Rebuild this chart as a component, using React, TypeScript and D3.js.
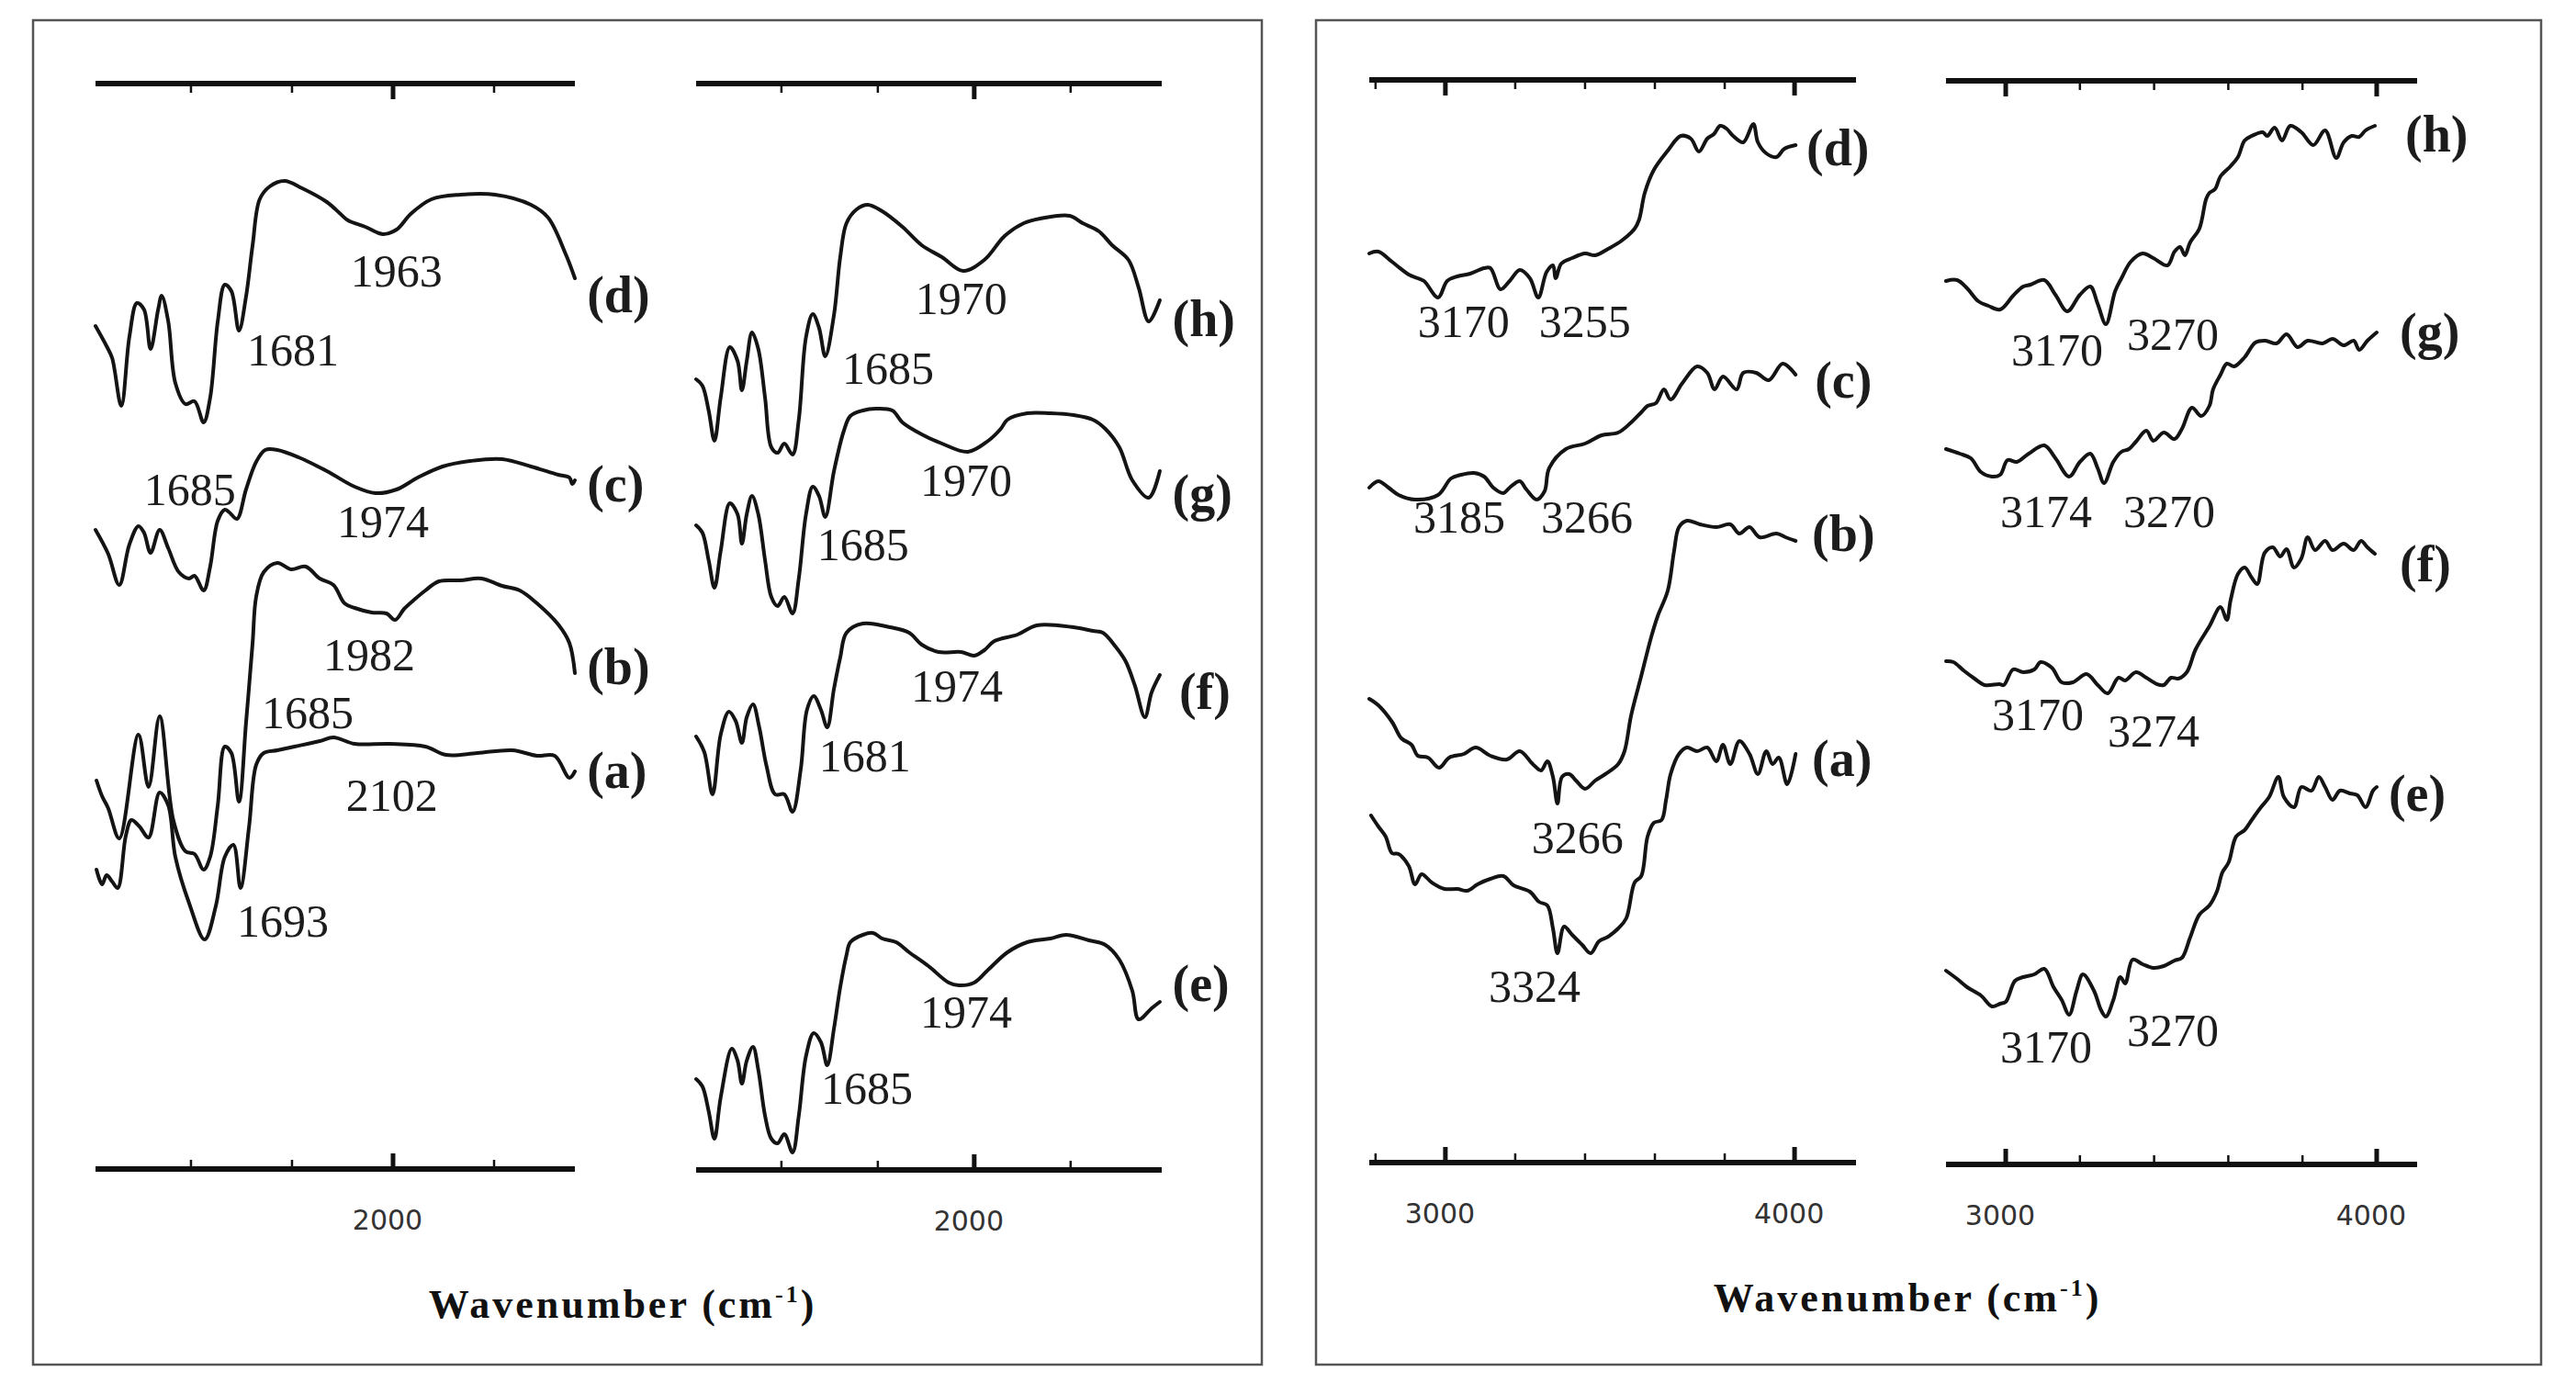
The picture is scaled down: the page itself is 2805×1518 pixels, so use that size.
import React from 'react';
import * as d3 from 'd3';

type Pt = [number, number];
type Lbl = [string, number, number];

// ---------- Panel 1 : 1400–2400 cm-1, samples (a)–(d) ----------
const specLowA: Pt[] = [[1413,35.3],[1424,33.7],[1433,34.7],[1444,34.0],[1455,33.3],[1471,39.0],[1482,40.7],[1498,40.0],[1516,38.8],[1538,43.7],[1555,42.3],[1569,36.7],[1596,31.7],[1627,27.7],[1649,31.3],[1667,36.7],[1684,38.0],[1698,33.3],[1715,40.0],[1729,46.7],[1744,48.0],[1771,48.3],[1805,48.7],[1855,49.3],[1882,49.7],[1924,49.0],[1993,49.0],[2064,48.7],[2105,47.8],[2167,48.0],[2236,48.3],[2285,47.7],[2320,47.7],[2349,45.3],[2360,46.0]];
const specLowB: Pt[] = [[1413,45.0],[1424,43.3],[1436,42.0],[1458,38.7],[1496,50.0],[1516,44.3],[1538,52.0],[1565,40.7],[1589,37.3],[1607,37.0],[1625,35.3],[1638,36.7],[1653,42.3],[1667,48.7],[1680,48.0],[1695,42.7],[1709,51.3],[1722,60.0],[1729,65.0],[1744,67.7],[1771,68.7],[1798,68.0],[1827,68.3],[1855,67.0],[1882,66.3],[1904,64.3],[1924,63.8],[1958,63.3],[1987,63.2],[2004,62.5],[2022,63.7],[2042,64.7],[2064,65.7],[2091,66.7],[2133,66.8],[2175,67.0],[2216,66.2],[2251,65.7],[2285,64.3],[2327,62.0],[2349,60.0],[2360,56.7]];
const specLowC: Pt[] = [[1411,72.3],[1436,69.7],[1458,66.3],[1478,70.7],[1496,72.7],[1507,72.0],[1520,69.8],[1538,72.3],[1555,70.3],[1576,67.7],[1596,67.0],[1607,67.3],[1625,65.7],[1638,68.3],[1653,73.3],[1667,74.5],[1676,74.2],[1691,73.5],[1709,76.7],[1729,79.7],[1747,81.0],[1771,81.0],[1813,80.2],[1869,78.7],[1924,77.0],[1965,76.3],[2007,76.7],[2049,78.0],[2098,79.2],[2153,79.8],[2216,80.0],[2273,79.2],[2327,78.3],[2349,78.0],[2355,77.3],[2360,77.7]];
const specLowD: Pt[] = [[1411,94.5],[1433,92.3],[1444,91.0],[1462,85.8],[1478,93.3],[1493,97.0],[1507,96.3],[1520,92.0],[1535,96.3],[1542,97.8],[1555,95.0],[1569,88.3],[1589,86.0],[1607,86.3],[1625,84.0],[1638,86.7],[1653,95.0],[1667,99.0],[1680,98.3],[1695,94.0],[1709,97.7],[1722,103.3],[1736,108.3],[1756,109.7],[1785,110.3],[1820,109.5],[1869,108.0],[1896,106.7],[1911,106.0],[1945,105.3],[1980,104.5],[2007,105.0],[2035,106.7],[2076,108.3],[2133,108.8],[2202,108.8],[2273,107.7],[2307,106.3],[2342,102.3],[2360,99.7]];

// ---------- Panel 2 : 1400–2400 cm-1, samples (e)–(h) ----------
const specLowE: Pt[] = [[1423,12.5],[1436,11.7],[1449,9.0],[1461,6.0],[1474,10.5],[1497,15.8],[1509,14.5],[1518,12.0],[1528,14.5],[1541,16.0],[1552,13.5],[1566,8.5],[1579,6.0],[1592,5.5],[1606,6.5],[1623,4.5],[1636,8.5],[1651,15.0],[1667,17.5],[1682,16.5],[1695,14.0],[1709,18.0],[1722,22.5],[1735,26.0],[1743,27.4],[1769,28.2],[1790,28.4],[1809,27.8],[1838,27.4],[1865,26.3],[1905,24.8],[1947,23.0],[1968,22.7],[2000,23.0],[2029,24.4],[2069,26.3],[2110,27.4],[2158,27.8],[2191,28.2],[2238,27.6],[2272,27.1],[2301,25.5],[2328,22.1],[2341,19.0],[2368,20.2],[2385,20.9]];
const specLowF: Pt[] = [[1423,49.8],[1440,48.1],[1457,43.5],[1474,50.0],[1491,52.5],[1505,51.5],[1518,49.1],[1528,51.9],[1541,53.3],[1554,50.8],[1569,46.6],[1587,43.5],[1606,43.5],[1623,41.6],[1640,46.2],[1653,52.7],[1667,54.2],[1682,52.7],[1695,50.8],[1709,55.0],[1722,58.4],[1735,61.1],[1769,62.1],[1825,61.7],[1865,61.1],[1891,59.8],[1926,59.0],[1973,59.0],[2000,58.6],[2021,59.2],[2042,60.2],[2090,60.9],[2130,61.9],[2206,61.7],[2246,61.3],[2267,61.1],[2293,59.6],[2314,58.0],[2333,55.4],[2354,51.9],[2368,54.6],[2385,56.5]];
const specLowG: Pt[] = [[1423,72.8],[1436,72.0],[1449,69.0],[1461,66.0],[1474,70.0],[1493,75.2],[1509,74.0],[1518,70.8],[1528,74.0],[1539,76.0],[1552,74.0],[1566,69.0],[1579,65.0],[1592,64.0],[1606,65.0],[1623,63.2],[1636,67.0],[1651,74.0],[1665,77.0],[1678,76.0],[1691,73.7],[1709,78.7],[1729,83.0],[1743,84.7],[1769,85.3],[1796,85.5],[1830,85.3],[1851,84.0],[1891,82.7],[1933,81.7],[1987,80.8],[2029,82.0],[2055,83.3],[2069,84.3],[2110,85.0],[2158,85.0],[2206,84.8],[2246,84.3],[2272,83.3],[2301,81.3],[2328,77.7],[2362,75.8],[2385,78.7]];
const specLowH: Pt[] = [[1423,88.7],[1436,88.0],[1449,85.3],[1461,82.0],[1474,86.7],[1493,92.2],[1509,90.7],[1518,87.5],[1528,90.7],[1539,93.8],[1552,92.0],[1566,86.7],[1579,81.3],[1592,80.7],[1606,81.7],[1623,80.5],[1636,84.3],[1651,93.3],[1665,95.8],[1678,94.3],[1691,91.2],[1709,95.7],[1722,102.0],[1735,105.7],[1756,107.2],[1779,107.7],[1809,107.0],[1851,105.3],[1891,103.3],[1933,102.0],[1977,100.5],[2021,101.7],[2063,104.3],[2103,105.7],[2137,106.2],[2198,106.5],[2225,105.7],[2259,104.8],[2286,103.3],[2320,101.7],[2341,98.7],[2362,95.0],[2385,97.3]];

// ---------- Panel 3 : 2800–4200 cm-1, samples (a)–(d) ----------
const specHighA: Pt[] = [[2787,41.2],[2808,40.0],[2829,38.9],[2847,37.1],[2866,37.0],[2895,35.7],[2913,33.7],[2932,34.8],[2961,33.9],[2997,33.2],[3034,33.2],[3063,33.0],[3092,33.7],[3129,34.3],[3166,34.6],[3195,33.6],[3242,32.9],[3268,31.8],[3292,31.4],[3308,28.9],[3321,26.2],[3340,29.1],[3363,28.2],[3392,27.1],[3416,26.2],[3440,27.5],[3466,28.0],[3495,28.9],[3518,30.0],[3542,33.9],[3561,34.6],[3579,38.9],[3597,40.4],[3619,40.7],[3632,42.9],[3645,45.7],[3669,47.9],[3692,48.6],[3721,48.2],[3750,48.6],[3776,47.1],[3795,48.9],[3816,46.8],[3842,49.3],[3871,47.9],[3895,45.7],[3919,48.2],[3937,46.8],[3955,47.5],[3979,44.6],[4003,47.9]];
const specHighB: Pt[] = [[2782,53.9],[2808,53.2],[2847,51.4],[2874,49.6],[2903,48.9],[2921,47.7],[2950,47.5],[2982,46.4],[3011,47.5],[3053,47.9],[3087,48.6],[3129,47.7],[3176,47.3],[3213,48.2],[3250,46.8],[3274,46.1],[3292,47.1],[3308,45.4],[3321,42.5],[3334,45.4],[3355,45.7],[3374,45.0],[3400,44.1],[3429,45.0],[3458,45.7],[3495,46.8],[3513,48.2],[3532,52.1],[3561,56.4],[3590,60.7],[3608,62.9],[3637,65.7],[3655,70.0],[3669,72.6],[3692,73.3],[3729,72.9],[3776,72.6],[3816,72.9],[3842,71.9],[3871,72.6],[3900,71.5],[3948,71.9],[3974,71.5],[4003,71.1]];
const specHighC: Pt[] = [[2782,76.9],[2808,77.6],[2837,76.9],[2866,76.1],[2913,75.6],[2979,76.1],[3016,77.9],[3045,78.3],[3082,78.5],[3111,78.1],[3137,76.9],[3166,76.3],[3184,76.9],[3213,77.6],[3232,76.7],[3261,75.6],[3284,76.5],[3297,79.0],[3345,81.1],[3400,81.7],[3447,82.6],[3495,82.9],[3532,84.0],[3561,85.1],[3579,85.8],[3603,86.1],[3626,87.6],[3645,86.5],[3679,88.3],[3721,90.1],[3750,89.4],[3771,87.6],[3795,89.0],[3834,87.6],[3853,89.4],[3890,89.4],[3926,88.6],[3966,90.4],[4003,89.2]];
const specHighD: Pt[] = [[2782,102.4],[2808,102.6],[2847,101.5],[2895,100.1],[2921,99.7],[2939,99.4],[2979,97.6],[3005,99.4],[3034,99.9],[3071,100.2],[3111,100.8],[3129,100.8],[3158,98.5],[3184,99.4],[3213,100.6],[3242,99.7],[3266,97.6],[3290,100.4],[3308,101.1],[3316,99.7],[3332,101.3],[3363,101.9],[3400,102.4],[3429,102.2],[3466,102.9],[3505,103.8],[3542,105.1],[3555,106.1],[3571,109.0],[3597,111.5],[3637,113.6],[3674,115.2],[3703,114.9],[3726,113.5],[3750,114.9],[3769,115.4],[3787,116.3],[3805,116.0],[3824,115.2],[3853,114.5],[3882,116.5],[3895,114.5],[3919,113.3],[3948,112.9],[3971,113.8],[4003,114.2]];

// ---------- Panel 4 : 2800–4100 cm-1, samples (e)–(h) ----------
const specHighE: Pt[] = [[2839,24.3],[2869,23.4],[2896,22.5],[2933,21.6],[2963,20.4],[2985,20.7],[3000,20.9],[3025,23.2],[3047,23.6],[3077,23.9],[3104,24.5],[3129,22.5],[3151,21.1],[3171,19.5],[3191,22.1],[3208,23.9],[3238,22.1],[3257,20.0],[3270,19.3],[3290,21.1],[3309,23.6],[3322,22.9],[3342,25.5],[3369,25.0],[3398,24.6],[3426,24.8],[3455,25.4],[3475,25.7],[3497,27.9],[3522,30.4],[3549,31.4],[3569,32.9],[3584,35.0],[3601,36.1],[3621,38.9],[3644,39.6],[3663,40.7],[3688,42.1],[3710,43.2],[3735,45.4],[3750,43.2],[3777,42.1],[3797,44.3],[3824,43.9],[3844,45.4],[3861,44.3],[3881,42.9],[3901,43.9],[3928,43.6],[3948,43.4],[3970,42.1],[3990,43.9],[4000,44.3]];
const specHighF: Pt[] = [[2839,58.0],[2859,57.9],[2886,57.0],[2916,56.1],[2943,55.4],[2983,55.5],[2995,55.4],[3020,57.1],[3047,56.8],[3077,57.1],[3094,57.9],[3124,57.3],[3151,55.7],[3181,55.7],[3218,56.6],[3248,55.4],[3275,54.5],[3304,56.2],[3322,55.9],[3351,56.8],[3379,56.2],[3408,55.5],[3426,55.4],[3446,56.2],[3465,56.1],[3488,56.8],[3512,59.3],[3549,61.8],[3579,63.9],[3596,62.5],[3606,64.6],[3626,67.5],[3644,68.2],[3663,67.1],[3678,66.4],[3698,69.8],[3720,70.4],[3740,69.4],[3757,70.2],[3777,68.2],[3797,69.2],[3814,71.5],[3834,70.1],[3861,71.1],[3881,70.1],[3911,70.8],[3938,70.1],[3958,71.1],[3975,70.4],[3995,69.7]];
const specHighG: Pt[] = [[2839,81.1],[2876,80.6],[2906,80.1],[2933,78.6],[2963,78.1],[2985,78.3],[3005,79.9],[3030,79.7],[3062,80.6],[3104,81.5],[3134,80.1],[3171,78.1],[3200,79.7],[3228,80.6],[3248,79.0],[3265,77.4],[3290,79.7],[3312,80.8],[3332,81.1],[3351,81.9],[3379,83.1],[3398,82.0],[3426,82.9],[3455,82.2],[3475,83.3],[3502,85.6],[3527,84.7],[3549,85.8],[3559,87.6],[3579,89.2],[3596,90.4],[3616,90.1],[3644,91.1],[3673,92.7],[3700,92.9],[3730,92.6],[3757,93.6],[3787,92.2],[3814,92.9],[3854,92.6],[3881,93.1],[3911,92.4],[3938,92.9],[3953,91.9],[3975,92.9],[4000,93.8]];
const specHighH: Pt[] = [[2839,99.4],[2869,99.5],[2896,98.6],[2926,97.2],[2953,96.7],[2985,96.3],[3020,97.8],[3047,98.8],[3067,99.0],[3104,99.5],[3134,97.9],[3166,96.1],[3200,97.9],[3228,98.8],[3248,96.9],[3270,94.7],[3295,98.3],[3312,99.7],[3337,101.5],[3369,102.4],[3398,101.9],[3436,101.1],[3455,102.6],[3470,103.1],[3483,102.2],[3497,103.6],[3522,105.1],[3540,108.3],[3549,109.0],[3564,109.4],[3579,110.8],[3606,111.9],[3626,112.9],[3644,114.7],[3663,115.2],[3693,115.6],[3705,115.2],[3725,116.1],[3745,114.7],[3767,116.3],[3797,115.6],[3829,114.2],[3861,115.8],[3891,112.8],[3911,114.5],[3933,115.2],[3953,115.1],[3970,115.8],[3995,116.3]];

// ---------- annotations [text, wavenumber, offset transmittance] ----------
const peaksP1: Lbl[] = [["1963",1916,98.8],["1681",1711,90.2],["1685",1507,75.0],["1974",1889,71.5],["1982",1862,57.0],["1685",1740,50.7],["2102",1907,41.7],["1693",1691,28.0]];
const tagsP1: Lbl[] = [["(d)",2384,96.0],["(c)",2384,75.4],["(b)",2384,55.5],["(a)",2384,44.2]];
const peaksP2: Lbl[] = [["1970",1878,95.8],["1685",1726,88.2],["1970",1888,76.0],["1685",1674,69.0],["1974",1869,53.6],["1681",1678,46.0],["1974",1888,18.1],["1685",1682,9.8]];
const tagsP2: Lbl[] = [["(h)",2411,93.4],["(g)",2411,74.4],["(f)",2425,52.8],["(e)",2411,21.0]];
const peaksP3: Lbl[] = [["3170",2921,93.3],["3255",3268,93.3],["3185",2908,72.0],["3266",3274,72.0],["3266",3247,37.1],["3324",3124,20.9]];
const tagsP3: Lbl[] = [["(d)",4034,112.0],["(c)",4058,86.7],["(b)",4050,70.0],["(a)",4050,45.5]];
const peaksP4: Lbl[] = [["3170",3015,90.2],["3270",3327,91.9],["3174",2985,72.6],["3270",3317,72.6],["3170",2963,50.5],["3274",3275,48.7],["3170",2985,14.3],["3270",3327,16.1]];
const tagsP4: Lbl[] = [["(h)",4077,113.5],["(g)",4062,92.0],["(f)",4062,66.7],["(e)",4032,41.7]];

// ---------- ticks ----------
const ticksLow = [1600, 1800, 2000, 2200];
const majorLow = [2000];
const ticksHighP3 = [2800, 3000, 3200, 3400, 3600, 3800, 4000];
const ticksHighP4 = [3000, 3200, 3400, 3600, 3800, 4000];
const majorHigh = [3000, 4000];
const axisTitle = 'Wavenumber (cm';

// ---------- layout ----------
const W = 2805, H = 1518;
const yScale = d3.scaleLinear().domain([0, 130]).range([1300, 0]);

interface PanelCfg {
  range: [number, number]; domain: [number, number]; top: number; bottom: number;
  ticks: number[]; major: number[]; curves: Pt[][]; peaks: Lbl[]; tags: Lbl[];
}

const panels: PanelCfg[] = [
  { range: [104, 626], domain: [1411, 2360], top: 91, bottom: 1273, ticks: ticksLow, major: majorLow, curves: [specLowA, specLowB, specLowC, specLowD], peaks: peaksP1, tags: tagsP1 },
  { range: [758, 1265], domain: [1423, 2389], top: 91, bottom: 1274, ticks: ticksLow, major: majorLow, curves: [specLowE, specLowF, specLowG, specLowH], peaks: peaksP2, tags: tagsP2 },
  { range: [1491, 2021], domain: [2782, 4176], top: 87, bottom: 1266, ticks: ticksHighP3, major: majorHigh, curves: [specHighA, specHighB, specHighC, specHighD], peaks: peaksP3, tags: tagsP3 },
  { range: [2119, 2632], domain: [2839, 4109], top: 88, bottom: 1268, ticks: ticksHighP4, major: majorHigh, curves: [specHighE, specHighF, specHighG, specHighH], peaks: peaksP4, tags: tagsP4 },
];

const SERIF = "'Liberation Serif', 'Times New Roman', serif";
const SANS = "'DejaVu Sans', Verdana, sans-serif";

function Axis({ x, y, ticks, major, dir, labels }: { x: d3.ScaleLinear<number, number>; y: number; ticks: number[]; major: number[]; dir: number; labels: boolean }) {
  const [r0, r1] = x.range();
  return (
    <g>
      <line x1={r0} x2={r1} y1={y} y2={y} stroke="#111" strokeWidth={6} />
      {ticks.map((t) => {
        const isMajor = major.includes(t);
        const len = isMajor ? 17 : 10;
        return (
          <line key={t} x1={x(t)} x2={x(t)} y1={y} y2={y + dir * len} stroke="#111" strokeWidth={isMajor ? 5 : 2.5} />
        );
      })}
      {labels && major.map((t) => (
        <text key={'l' + t} x={x(t) - 6} y={y + 66} textAnchor="middle" fontFamily={SANS} fontSize={30} fill="#333">{t}</text>
      ))}
    </g>
  );
}

function Panel({ cfg }: { cfg: PanelCfg }) {
  const x = d3.scaleLinear().domain(cfg.domain).range(cfg.range);
  const line = d3.line<Pt>().x((d) => x(d[0])).y((d) => yScale(d[1])).curve(d3.curveCatmullRom.alpha(0.5));
  return (
    <g>
      <Axis x={x} y={cfg.top} ticks={cfg.ticks} major={cfg.major} dir={1} labels={false} />
      <Axis x={x} y={cfg.bottom} ticks={cfg.ticks} major={cfg.major} dir={-1} labels={true} />
      {cfg.curves.map((c, i) => (
        <path key={i} d={line(c) || ''} fill="none" stroke="#141414" strokeWidth={4} strokeLinejoin="round" strokeLinecap="round" />
      ))}
      {cfg.peaks.map(([t, wn, v], i) => (
        <text key={'p' + i} x={x(wn)} y={yScale(v)} fontFamily={SERIF} fontSize={50} fill="#1c1c1c">{t}</text>
      ))}
      {cfg.tags.map(([t, wn, v], i) => (
        <text key={'t' + i} x={x(wn)} y={yScale(v)} fontFamily={SERIF} fontSize={56} fontWeight="bold" fill="#1c1c1c">{t}</text>
      ))}
    </g>
  );
}

function Title({ cx, y }: { cx: number; y: number }) {
  return (
    <text x={cx} y={y} textAnchor="middle" fontFamily={SERIF} fontSize={44} fontWeight="bold" letterSpacing={3} fill="#111">
      {axisTitle}
      <tspan dy={-17} fontSize={26}>-1</tspan>
      <tspan dy={17}>)</tspan>
    </text>
  );
}

export default function App() {
  return (
    <div style={{ position: 'absolute', left: 0, top: 0 }}>
      <svg width={W} height={H} viewBox={`0 0 ${W} ${H}`} style={{ display: 'block', background: '#fff' }}>
        <rect x={0} y={0} width={W} height={H} fill="#fff" />
        <rect x={36} y={22} width={1338} height={1464} fill="none" stroke="#555" strokeWidth={2.5} />
        <rect x={1433} y={22} width={1334} height={1464} fill="none" stroke="#555" strokeWidth={2.5} />
        {panels.map((p, i) => <Panel key={i} cfg={p} />)}
        <Title cx={678} y={1435} />
        <Title cx={2077} y={1428} />
      </svg>
    </div>
  );
}
